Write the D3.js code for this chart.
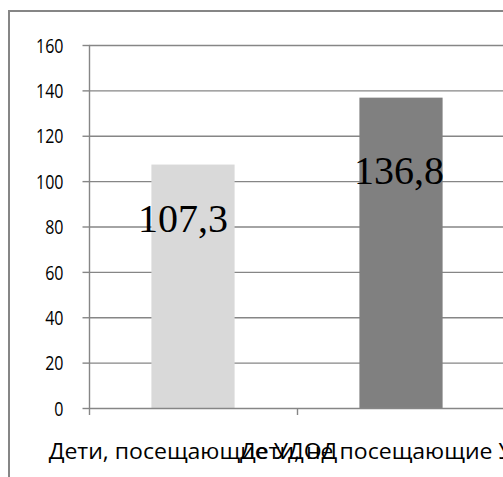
<!DOCTYPE html>
<html>
<head>
<meta charset="utf-8">
<script src="https://cdn.jsdelivr.net/npm/d3@7/dist/d3.min.js"></script>
<style>
  html, body { margin: 0; padding: 0; background: #fff; }
  svg { display: block; }
</style>
</head>
<body>
<script>
// Chart data
const categories = ["Дети, посещающие УДОД", "Дети, не посещающие УДОД"];
const values = [107.3, 136.8];
const valueLabels = ["107,3", "136,8"];
const barColors = ["#d9d9d9", "#808080"];
const yTicks = [0, 20, 40, 60, 80, 100, 120, 140, 160];

const W = 503, H = 477;
const svg = d3.select("body").append("svg").attr("width", W).attr("height", H);

// Outer chart frame (extends past the right and bottom edges)
svg.append("rect")
  .attr("x", 9).attr("y", 11)
  .attr("width", 520).attr("height", 500)
  .attr("fill", "none").attr("stroke", "#868686").attr("stroke-width", 2);

const plot = { left: 89, right: 505, top: 45, bottom: 408 };

const y = d3.scaleLinear().domain([0, 160]).range([plot.bottom, plot.top]);
const x = d3.scaleBand().domain(categories).range([plot.left, plot.right]).padding(0);
const barW = x.bandwidth() * 0.4;

// Horizontal gridlines
svg.append("g").selectAll("line").data(yTicks.filter(d => d > 0)).join("line")
  .attr("x1", plot.left).attr("x2", plot.right)
  .attr("y1", d => y(d) + 0.5).attr("y2", d => y(d) + 0.5)
  .attr("stroke", "#868686").attr("stroke-width", 1.4);

// Bars
svg.append("g").selectAll("rect").data(values).join("rect")
  .attr("x", (d, i) => x(categories[i]) + (x.bandwidth() - barW) / 2)
  .attr("y", d => y(d))
  .attr("width", barW)
  .attr("height", d => y(0) - y(d))
  .attr("fill", (d, i) => barColors[i]);

// Y axis
const yAxis = svg.append("g")
  .attr("transform", `translate(${plot.left + 0.5},0)`)
  .call(d3.axisLeft(y).tickValues(yTicks).tickSize(7).tickPadding(0).tickFormat(d3.format("d")));
yAxis.select(".domain").attr("stroke", "#868686").attr("stroke-width", 1.4).attr("d", `M0,${plot.top}V${plot.bottom}`);
yAxis.selectAll(".tick line").attr("stroke", "#868686").attr("stroke-width", 1.4);
yAxis.selectAll(".tick text")
  .attr("font-family", "'Open Sans', sans-serif")
  .attr("font-size", 20)
  .attr("fill", "#000")
  .attr("text-anchor", "end")
  .attr("dy", "0.36em")
  .attr("x", 0)
  .attr("transform", "translate(-26,0) scale(0.8,1)");

// X axis line and category ticks
const xAxis = svg.append("g");
xAxis.append("line")
  .attr("x1", plot.left).attr("x2", plot.right)
  .attr("y1", plot.bottom + 0.5).attr("y2", plot.bottom + 0.5)
  .attr("stroke", "#868686").attr("stroke-width", 1.4);
const tickXs = categories.map(c => x(c)).concat([plot.right]);
xAxis.selectAll("line.t").data(tickXs).join("line").attr("class", "t")
  .attr("x1", d => d + 0.5).attr("x2", d => d + 0.5)
  .attr("y1", plot.bottom).attr("y2", plot.bottom + 7)
  .attr("stroke", "#868686").attr("stroke-width", 1.4);

// Category labels (overlapping, as the axis is narrow)
const catText = svg.append("g").selectAll("text").data(categories).join("text")
  .attr("font-family", "'Open Sans', sans-serif")
  .attr("font-size", 22)
  .attr("fill", "#000")
  .attr("text-anchor", "middle")
  .text(d => d);
const natural = catText.nodes()[0].getComputedTextLength();
const sx = 289 / natural;
catText.attr("transform", d => `translate(${x(d) + x.bandwidth() / 2},459) scale(${sx},1)`);

// Value labels
svg.append("g").selectAll("text").data(values).join("text")
  .attr("font-family", "'Liberation Serif', 'Times New Roman', serif")
  .attr("font-size", 40)
  .attr("fill", "#000")
  .attr("text-anchor", "middle")
  .attr("transform", (d, i) => {
    const cx = x(categories[i]) + x.bandwidth() / 2 + (i === 0 ? -10 : -2);
    return `translate(${cx},${y(d * 0.722)})`;
  })
  .text((d, i) => valueLabels[i]);
</script>
</body>
</html>
